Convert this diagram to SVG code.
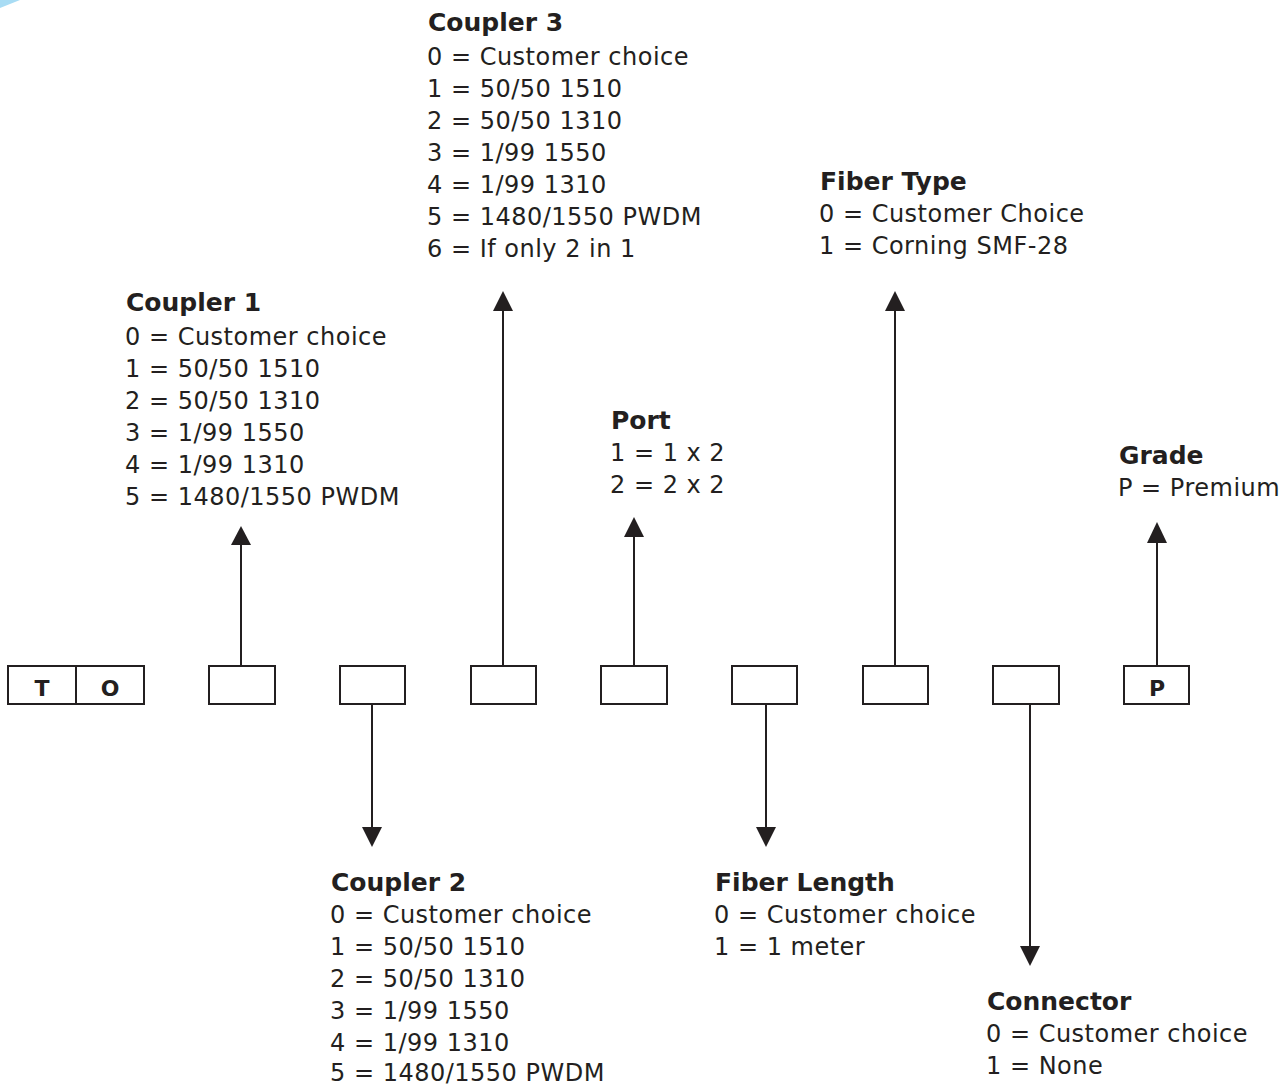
<svg xmlns="http://www.w3.org/2000/svg" width="1286" height="1086" viewBox="0 0 1286 1086">
<defs>
<style>
.box{fill:#fff;stroke:#231f20;stroke-width:2}
.ln{stroke:#231f20;stroke-width:2;fill:none}
.ah{fill:#231f20}
.t{font-family:"DejaVu Sans","Liberation Sans",sans-serif;font-size:24px;letter-spacing:0.5px;fill:#231f20}
.h{font-family:"DejaVu Sans","Liberation Sans",sans-serif;font-size:25px;font-weight:bold;fill:#231f20}
.bx{font-family:"DejaVu Sans","Liberation Sans",sans-serif;font-size:22px;font-weight:bold;fill:#231f20;text-anchor:middle}
</style>
</defs>
<rect width="1286" height="1086" fill="#fff"/>
<path d="M0,0 L20,0 Q10,4 0,8 Z" fill="#a8dcf4"/>
<g id="connectors">
<line class="ln" x1="241" y1="666" x2="241" y2="540"/>
<polygon class="ah" points="241,526 231,545 251,545"/>
<line class="ln" x1="503" y1="666" x2="503" y2="305"/>
<polygon class="ah" points="503,291 493,311 513,311"/>
<line class="ln" x1="634" y1="666" x2="634" y2="530"/>
<polygon class="ah" points="634,517 624,537 644,537"/>
<line class="ln" x1="895" y1="666" x2="895" y2="305"/>
<polygon class="ah" points="895,291 885,311 905,311"/>
<line class="ln" x1="1157" y1="666" x2="1157" y2="535"/>
<polygon class="ah" points="1157,522 1147,543 1167,543"/>
<line class="ln" x1="372" y1="704" x2="372" y2="833"/>
<polygon class="ah" points="372,847 362,827 382,827"/>
<line class="ln" x1="766" y1="704" x2="766" y2="833"/>
<polygon class="ah" points="766,847 756,827 776,827"/>
<line class="ln" x1="1030" y1="704" x2="1030" y2="952"/>
<polygon class="ah" points="1030,966 1020,946 1040,946"/>
</g>
<g id="box-TO">
<rect class="box" x="8" y="666" width="136" height="38"/>
<line class="ln" x1="76" y1="666" x2="76" y2="704"/>
<text class="bx" x="42" y="696">T</text>
<text class="bx" x="110" y="696">O</text>
</g>
<g id="box-c1"><rect class="box" x="209" y="666" width="66" height="38"/></g>
<g id="box-c2"><rect class="box" x="340" y="666" width="65" height="38"/></g>
<g id="box-c3"><rect class="box" x="471" y="666" width="65" height="38"/></g>
<g id="box-port"><rect class="box" x="601" y="666" width="66" height="38"/></g>
<g id="box-len"><rect class="box" x="732" y="666" width="65" height="38"/></g>
<g id="box-type"><rect class="box" x="863" y="666" width="65" height="38"/></g>
<g id="box-conn"><rect class="box" x="993" y="666" width="66" height="38"/></g>
<g id="box-grade"><rect class="box" x="1124" y="666" width="65" height="38"/><text class="bx" x="1157" y="696">P</text></g>
<g id="label-coupler3">
<text class="h" x="428" y="31">Coupler 3</text>
<text class="t" x="427" y="65">0 = Customer choice</text>
<text class="t" x="427" y="97">1 = 50/50 1510</text>
<text class="t" x="427" y="129">2 = 50/50 1310</text>
<text class="t" x="427" y="161">3 = 1/99 1550</text>
<text class="t" x="427" y="193">4 = 1/99 1310</text>
<text class="t" x="427" y="225">5 = 1480/1550 PWDM</text>
<text class="t" x="427" y="257">6 = If only 2 in 1</text>
</g>
<g id="label-coupler1">
<text class="h" x="126" y="311">Coupler 1</text>
<text class="t" x="125" y="345">0 = Customer choice</text>
<text class="t" x="125" y="377">1 = 50/50 1510</text>
<text class="t" x="125" y="409">2 = 50/50 1310</text>
<text class="t" x="125" y="441">3 = 1/99 1550</text>
<text class="t" x="125" y="473">4 = 1/99 1310</text>
<text class="t" x="125" y="505">5 = 1480/1550 PWDM</text>
</g>
<g id="label-port">
<text class="h" x="611" y="429">Port</text>
<text class="t" x="610" y="461">1 = 1 x 2</text>
<text class="t" x="610" y="493">2 = 2 x 2</text>
</g>
<g id="label-fibertype">
<text class="h" x="820" y="190">Fiber Type</text>
<text class="t" x="819" y="222">0 = Customer Choice</text>
<text class="t" x="819" y="254">1 = Corning SMF-28</text>
</g>
<g id="label-grade">
<text class="h" x="1119" y="464">Grade</text>
<text class="t" x="1118" y="496">P = Premium</text>
</g>
<g id="label-coupler2">
<text class="h" x="331" y="891">Coupler 2</text>
<text class="t" x="330" y="923">0 = Customer choice</text>
<text class="t" x="330" y="955">1 = 50/50 1510</text>
<text class="t" x="330" y="987">2 = 50/50 1310</text>
<text class="t" x="330" y="1019">3 = 1/99 1550</text>
<text class="t" x="330" y="1051">4 = 1/99 1310</text>
<text class="t" x="330" y="1081">5 = 1480/1550 PWDM</text>
</g>
<g id="label-fiberlength">
<text class="h" x="715" y="891">Fiber Length</text>
<text class="t" x="714" y="923">0 = Customer choice</text>
<text class="t" x="714" y="955">1 = 1 meter</text>
</g>
<g id="label-connector">
<text class="h" x="987" y="1010">Connector</text>
<text class="t" x="986" y="1042">0 = Customer choice</text>
<text class="t" x="986" y="1074">1 = None</text>
</g>
</svg>
